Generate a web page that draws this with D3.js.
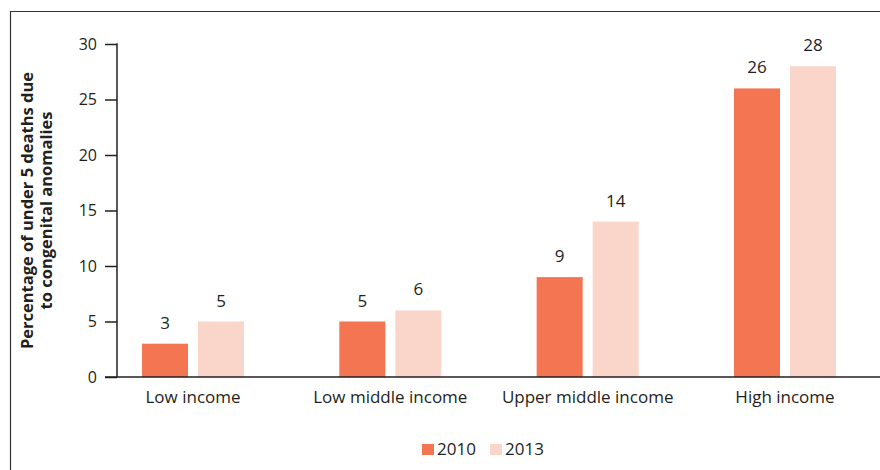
<!DOCTYPE html>
<html>
<head>
<meta charset="utf-8">
<script src="https://cdn.jsdelivr.net/npm/d3@7"></script>
<style>
  body { margin: 0; background: #fff; }
  text { font-family: "Open Sans", "Noto Sans", sans-serif; fill: #231f20; }
</style>
</head>
<body>
<div id="chart"></div>
<script>
// data
const categories = ["Low income", "Low middle income", "Upper middle income", "High income"]
const years = ["2010", "2013"]
const values2010 = [3, 5, 9, 26]
const values2013 = [5, 6, 14, 28]
const yTicks = [0, 5, 10, 15, 20, 25, 30]
const yTitle = ["Percentage of under 5 deaths due", "to congenital anomalies"]

const colors = { "2010": "#f47552", "2013": "#f9d5ca" }

const W = 880, H = 470
const margin = { top: 44, right: 0, bottom: 93, left: 117 }
const h = H - margin.top - margin.bottom

const rows = categories.map((c, i) => ({ cat: c, "2010": values2010[i], "2013": values2013[i] }))

const svg = d3.select("#chart").append("svg")
  .attr("width", W)
  .attr("height", H)

// frame line on left and top
svg.append("path")
  .attr("d", "M10.5," + H + "V11.5H" + W)
  .attr("fill", "none")
  .attr("stroke", "#333")
  .attr("stroke-width", 1.2)

const g = svg.append("g")
  .attr("transform", "translate(" + margin.left + "," + margin.top + ")")

// scales
const x0 = d3.scaleBand()
  .domain(categories)
  .range([94.35 - margin.left, 883.65 - margin.left])
  .padding(0)

const x1 = d3.scaleBand()
  .domain(years)
  .range([-51, 51])
  .paddingInner(10 / 56)
  .paddingOuter(0)

const y = d3.scaleLinear()
  .domain([0, 30])
  .range([h, 0])

// bars
const groups = g.selectAll(".grp")
  .data(rows)
  .enter()
  .append("g")
  .attr("class", "grp")
  .attr("transform", d => "translate(" + (x0(d.cat) + x0.bandwidth() / 2) + ",0)")

groups.selectAll("rect")
  .data(d => years.map(yr => ({ yr: yr, v: d[yr] })))
  .enter()
  .append("rect")
  .attr("x", d => x1(d.yr))
  .attr("y", d => y(d.v))
  .attr("width", x1.bandwidth())
  .attr("height", d => h - y(d.v))
  .attr("fill", d => colors[d.yr])

groups.selectAll(".val")
  .data(d => years.map(yr => ({ yr: yr, v: d[yr] })))
  .enter()
  .append("text")
  .attr("class", "val")
  .attr("x", d => x1(d.yr) + x1.bandwidth() / 2)
  .attr("y", d => y(d.v) - 15)
  .attr("text-anchor", "middle")
  .attr("font-size", 17)
  .text(d => d.v)

// y axis
const yAxis = d3.axisLeft(y)
  .tickValues(yTicks)
  .tickSize(12)
  .tickPadding(8)

const ya = g.append("g").call(yAxis)
ya.select(".domain").remove()
ya.selectAll(".tick line").attr("stroke", "#231f20").attr("stroke-width", 1.5)
ya.selectAll(".tick text").attr("font-size", 16).attr("font-family", null).attr("fill", null)

g.append("line")
  .attr("x1", 0).attr("x2", 0)
  .attr("y1", y(30) - 0.75).attr("y2", h)
  .attr("stroke", "#231f20")
  .attr("stroke-width", 1.5)

// x axis line
g.append("line")
  .attr("x1", -12).attr("x2", W - margin.left)
  .attr("y1", h).attr("y2", h)
  .attr("stroke", "#231f20")
  .attr("stroke-width", 1.5)

// category labels
g.selectAll(".cat")
  .data(categories)
  .enter()
  .append("text")
  .attr("class", "cat")
  .attr("x", d => x0(d) + x0.bandwidth() / 2)
  .attr("y", h + 26)
  .attr("text-anchor", "middle")
  .attr("font-size", 17)
  .text(d => d)

// y axis title
const yt = svg.append("text")
  .attr("transform", "translate(33," + (margin.top + h / 2) + ") rotate(-90)")
  .attr("text-anchor", "middle")
  .attr("font-size", 16.5)
  .attr("font-weight", "bold")

yTitle.forEach((t, i) => {
  yt.append("tspan")
    .attr("x", 0)
    .attr("y", i * 18.5)
    .text(t)
})

// legend
const legendX = [422, 490]
const legend = svg.selectAll(".leg")
  .data(years)
  .enter()
  .append("g")
  .attr("class", "leg")
  .attr("transform", (d, i) => "translate(" + legendX[i] + ",444)")

legend.append("rect")
  .attr("width", 12)
  .attr("height", 11)
  .attr("fill", d => colors[d])

legend.append("text")
  .attr("x", 15)
  .attr("y", 11)
  .attr("font-size", 17)
  .text(d => d)
</script>
</body>
</html>
